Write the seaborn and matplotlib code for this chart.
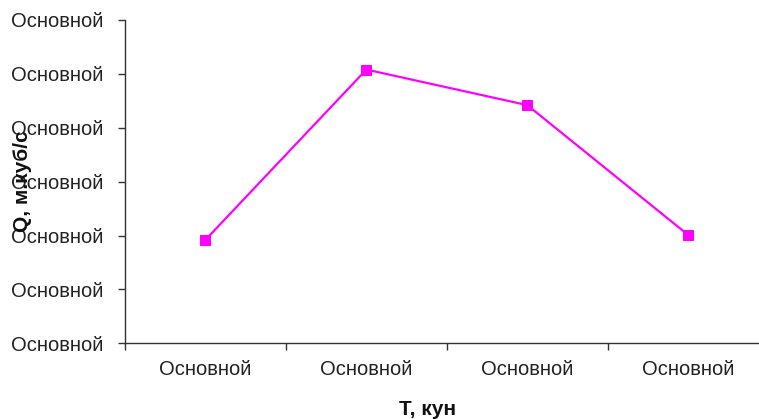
import matplotlib
matplotlib.use("Agg")
import matplotlib.pyplot as plt
import seaborn as sns
import pandas as pd

# values (axis labels are broken Excel "General" format)
periods = [1, 2, 3, 4]
discharge = [19.2, 50.8, 44.2, 20.1]
x_tick_labels = ["Основной", "Основной", "Основной", "Основной"]
y_ticks = [0, 10, 20, 30, 40, 50, 60]
y_tick_labels = ["Основной"] * len(y_ticks)

df = pd.DataFrame({"T": periods, "Q": discharge})

sns.set_style("ticks")
plt.rcParams['font.family'] = ['Liberation Sans', 'DejaVu Sans']

fig = plt.figure(figsize=(7.59, 4.19), dpi=100)
ax = fig.add_axes([125 / 759, 1 - 343.3 / 419, 634 / 759, 323.3 / 419])

sns.lineplot(data=df, x="T", y="Q", ax=ax, color="#FF00FF", linewidth=1.6,
             marker="s", markersize=7.5, markeredgecolor="#FF00FF")

ax.set_xlim(0.5, 4.44)
ax.set_ylim(0, 60)
ax.set_xticks([0.5, 1.5, 2.5, 3.5])
ax.set_xticklabels([])
ax.set_xticks(periods, minor=True)
ax.set_xticklabels(x_tick_labels, minor=True, fontsize=14.5, color="#222222")
ax.tick_params(axis="x", which="minor", length=0, pad=12)
ax.tick_params(axis="x", which="major", length=5, width=1, color="#333333")
ax.set_yticks(y_ticks)
ax.set_yticklabels(y_tick_labels, fontsize=14.5, color="#222222")
ax.tick_params(axis="y", length=5, width=1, color="#333333", pad=10.5)

sns.despine(ax=ax)
for s in ["left", "bottom"]:
    ax.spines[s].set_color("#333333")
    ax.spines[s].set_linewidth(1.0)

ax.set_xlabel("Т, кун", fontsize=15, fontweight="bold", color="#111111")
ax.set_ylabel("Q, м.куб/с", fontsize=15, fontweight="bold", color="#111111")
ax.xaxis.label.set_va("center")
ax.xaxis.set_label_coords(0.478, -0.205)
ax.yaxis.label.set_va("center")
ax.yaxis.set_label_coords(-0.162, 0.5)

fig.savefig("out.png", dpi=100)
